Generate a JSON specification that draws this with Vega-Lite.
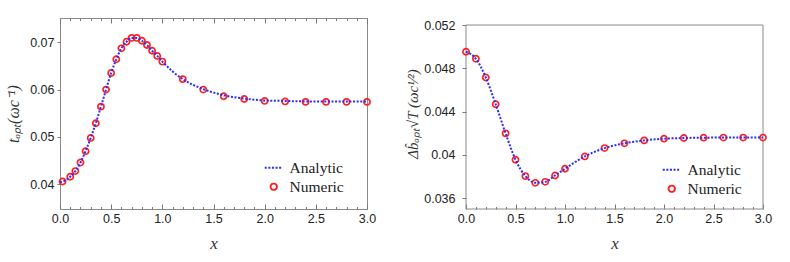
{
  "$schema": "https://vega.github.io/schema/vega-lite/v6.json",
  "background": "white",
  "padding": {"left": 5, "top": 17, "right": 5, "bottom": 5},
  "spacing": 28,
  "config": {
    "view": {"stroke": "#8a8a8a", "strokeWidth": 1},
    "axis": {"labelFont": "Liberation Sans", "labelFontSize": 12.5, "labelColor": "#222", "tickColor": "#777", "domain": false, "grid": false, "titleFont": "Liberation Serif", "titleFontWeight": "normal", "titleColor": "#333", "titleFontStyle": "italic", "labelOverlap": false},
    "legend": {"labelFont": "Liberation Serif", "labelFontSize": 15.5, "labelColor": "#222", "padding": 0, "rowPadding": 2, "labelOffset": 8, "symbolSize": 324, "title": null}
  },
  "resolve": {"scale": {"color": "independent"}, "legend": {"color": "independent"}},
  "datasets": {
    "leftNum": [
      {"x": 0.025, "y": 0.0406}, {"x": 0.1, "y": 0.0416}, {"x": 0.15, "y": 0.0428}, {"x": 0.2, "y": 0.0446},
      {"x": 0.25, "y": 0.0470}, {"x": 0.3, "y": 0.0498}, {"x": 0.35, "y": 0.0529}, {"x": 0.4, "y": 0.0564},
      {"x": 0.45, "y": 0.0600}, {"x": 0.5, "y": 0.0635}, {"x": 0.55, "y": 0.0664}, {"x": 0.6, "y": 0.0687},
      {"x": 0.65, "y": 0.0701}, {"x": 0.7, "y": 0.0709}, {"x": 0.75, "y": 0.0709}, {"x": 0.8, "y": 0.0703},
      {"x": 0.85, "y": 0.0694}, {"x": 0.9, "y": 0.0682}, {"x": 0.95, "y": 0.0671}, {"x": 1.0, "y": 0.0659},
      {"x": 1.2, "y": 0.0622}, {"x": 1.4, "y": 0.0600}, {"x": 1.6, "y": 0.0586}, {"x": 1.8, "y": 0.0580},
      {"x": 2.0, "y": 0.0576}, {"x": 2.2, "y": 0.0575}, {"x": 2.4, "y": 0.0574}, {"x": 2.6, "y": 0.0574},
      {"x": 2.8, "y": 0.0574}, {"x": 3.0, "y": 0.0574}
    ],
    "leftAna": [
      {"x": 0.0, "y": 0.0405}, {"x": 0.025, "y": 0.0406}, {"x": 0.1, "y": 0.0416}, {"x": 0.15, "y": 0.0428}, {"x": 0.2, "y": 0.0446},
      {"x": 0.25, "y": 0.0470}, {"x": 0.3, "y": 0.0498}, {"x": 0.35, "y": 0.0529}, {"x": 0.4, "y": 0.0564},
      {"x": 0.45, "y": 0.0600}, {"x": 0.5, "y": 0.0635}, {"x": 0.55, "y": 0.0664}, {"x": 0.6, "y": 0.0687},
      {"x": 0.65, "y": 0.0701}, {"x": 0.7, "y": 0.0709}, {"x": 0.75, "y": 0.0709}, {"x": 0.8, "y": 0.0703},
      {"x": 0.85, "y": 0.0694}, {"x": 0.9, "y": 0.0682}, {"x": 0.95, "y": 0.0671}, {"x": 1.0, "y": 0.0659},
      {"x": 1.2, "y": 0.0622}, {"x": 1.4, "y": 0.0601}, {"x": 1.6, "y": 0.0588}, {"x": 1.8, "y": 0.0581},
      {"x": 2.0, "y": 0.0577}, {"x": 2.2, "y": 0.0576}, {"x": 2.4, "y": 0.0575}, {"x": 2.6, "y": 0.0575},
      {"x": 2.8, "y": 0.0575}, {"x": 3.0, "y": 0.0575}
    ],
    "rightNum": [
      {"x": 0.0, "y": 0.04953}, {"x": 0.1, "y": 0.04888}, {"x": 0.2, "y": 0.04715}, {"x": 0.3, "y": 0.04468},
      {"x": 0.4, "y": 0.04199}, {"x": 0.5, "y": 0.03955}, {"x": 0.6, "y": 0.03804}, {"x": 0.7, "y": 0.03742},
      {"x": 0.8, "y": 0.03751}, {"x": 0.9, "y": 0.03810}, {"x": 1.0, "y": 0.03872}, {"x": 1.2, "y": 0.03986},
      {"x": 1.4, "y": 0.04063}, {"x": 1.6, "y": 0.04107}, {"x": 1.8, "y": 0.04134}, {"x": 2.0, "y": 0.04150},
      {"x": 2.2, "y": 0.04156}, {"x": 2.4, "y": 0.04159}, {"x": 2.6, "y": 0.04160}, {"x": 2.8, "y": 0.04160},
      {"x": 3.0, "y": 0.04160}
    ],
    "rightAna": [
      {"x": 0.0, "y": 0.04953}, {"x": 0.1, "y": 0.04888}, {"x": 0.2, "y": 0.04715}, {"x": 0.3, "y": 0.04468},
      {"x": 0.4, "y": 0.04199}, {"x": 0.5, "y": 0.03955}, {"x": 0.6, "y": 0.03804}, {"x": 0.7, "y": 0.03742},
      {"x": 0.8, "y": 0.03751}, {"x": 0.9, "y": 0.03810}, {"x": 1.0, "y": 0.03872}, {"x": 1.2, "y": 0.03986},
      {"x": 1.4, "y": 0.04063}, {"x": 1.6, "y": 0.04107}, {"x": 1.8, "y": 0.04134}, {"x": 2.0, "y": 0.04150},
      {"x": 2.2, "y": 0.04156}, {"x": 2.4, "y": 0.04159}, {"x": 2.6, "y": 0.04160}, {"x": 2.8, "y": 0.04160},
      {"x": 3.0, "y": 0.04160}
    ]
  },
  "hconcat": [
    {
      "width": 307,
      "height": 191,
      "resolve": {"axis": {"x": "independent", "y": "independent"}},
      "layer": [
        {
          "data": {"name": "leftNum"},
          "mark": {"type": "point", "filled": false, "size": 38, "strokeWidth": 1.7, "opacity": 1},
          "encoding": {
            "x": {"field": "x", "type": "quantitative", "scale": {"domain": [0, 3], "nice": false, "zero": false},
              "axis": {"orient": "top", "labels": false, "title": null, "values": [0,0.1,0.2,0.3,0.4,0.5,0.6,0.7,0.8,0.9,1,1.1,1.2,1.3,1.4,1.5,1.6,1.7,1.8,1.9,2,2.1,2.2,2.3,2.4,2.5,2.6,2.7,2.8,2.9,3],
                "tickSize": {"condition": {"test": "datum.value % 0.5 === 0", "value": -5}, "value": -2.5}}},
            "y": {"field": "y", "type": "quantitative", "scale": {"domain": [0.0348, 0.0751], "nice": false, "zero": false},
              "axis": {"orient": "left", "title": "tₒₚₜ(ωc⁻¹)", "titleFontSize": 16, "titlePadding": 8, "values": [0.04, 0.05, 0.06, 0.07], "format": "~g", "tickSize": 3, "labelPadding": 3}},
            "color": {"datum": "Numeric", "type": "nominal", "scale": {"domain": ["Analytic", "Numeric"], "range": ["#2b2bff", "#ff2020"]},
              "legend": {"orient": "none", "legendX": 206, "legendY": 142,
                "encode": {"symbols": {"update": {
                  "shape": {"signal": "datum.value === 'Analytic' ? 'stroke' : 'circle'"},
                  "size": {"signal": "datum.value === 'Analytic' ? 324 : 40"},
                  "strokeDash": {"signal": "datum.value === 'Analytic' ? [2, 1.6] : [1, 0]"},
                  "stroke": {"signal": "datum.value === 'Analytic' ? '#2b2bff' : '#ff2020'"},
                  "fill": {"value": "transparent"},
                  "opacity": {"value": 1},
                  "strokeWidth": {"signal": "datum.value === 'Analytic' ? 1.8 : 1.9"}}}}}}
          }
        },
        {
          "data": {"name": "leftAna"},
          "mark": {"type": "line", "strokeWidth": 2, "strokeDash": [2, 1.6], "interpolate": "monotone"},
          "encoding": {
            "x": {"field": "x", "type": "quantitative", "scale": {"domain": [0, 3], "nice": false, "zero": false},
              "axis": {"orient": "bottom", "title": "x", "titleFontSize": 17, "titlePadding": 8, "labelFlush": false, "labelPadding": 8,
                "values": [0,0.1,0.2,0.3,0.4,0.5,0.6,0.7,0.8,0.9,1,1.1,1.2,1.3,1.4,1.5,1.6,1.7,1.8,1.9,2,2.1,2.2,2.3,2.4,2.5,2.6,2.7,2.8,2.9,3],
                "labelExpr": "datum.value % 0.5 === 0 ? format(datum.value, '.1f') : ''",
                "tickSize": {"condition": {"test": "datum.value % 0.5 === 0", "value": -5}, "value": -2.5}}},
            "y": {"field": "y", "type": "quantitative", "scale": {"domain": [0.0348, 0.0751], "nice": false, "zero": false}, "axis": null},
            "color": {"datum": "Analytic", "type": "nominal", "scale": {"domain": ["Analytic", "Numeric"], "range": ["#2b2bff", "#ff2020"]},
              "legend": {"orient": "none", "legendX": 206, "legendY": 142,
                "encode": {"symbols": {"update": {
                  "shape": {"signal": "datum.value === 'Analytic' ? 'stroke' : 'circle'"},
                  "size": {"signal": "datum.value === 'Analytic' ? 324 : 40"},
                  "strokeDash": {"signal": "datum.value === 'Analytic' ? [2, 1.6] : [1, 0]"},
                  "stroke": {"signal": "datum.value === 'Analytic' ? '#2b2bff' : '#ff2020'"},
                  "fill": {"value": "transparent"},
                  "opacity": {"value": 1},
                  "strokeWidth": {"signal": "datum.value === 'Analytic' ? 1.8 : 1.9"}}}}}}
          }
        }
      ]
    },
    {
      "width": 297,
      "height": 191,
      "view": {"stroke": null},
      "resolve": {"axis": {"x": "independent", "y": "independent"}},
      "layer": [
        {
          "data": {"values": [{}]},
          "mark": {"type": "rect", "fill": null, "stroke": "#8a8a8a", "strokeWidth": 1},
          "encoding": {
            "x": {"datum": 0, "type": "quantitative", "scale": {"domain": [0, 3], "nice": false, "zero": false}, "axis": null},
            "x2": {"datum": 3},
            "y": {"datum": 0.035, "type": "quantitative", "scale": {"domain": [0.035, 0.05265], "nice": false, "zero": false}, "axis": null},
            "y2": {"datum": 0.052}
          }
        },
        {
          "data": {"name": "rightNum"},
          "mark": {"type": "point", "filled": false, "size": 38, "strokeWidth": 1.7, "opacity": 1},
          "encoding": {
            "x": {"field": "x", "type": "quantitative", "scale": {"domain": [0, 3], "nice": false, "zero": false}, "axis": null},
            "y": {"field": "y", "type": "quantitative", "scale": {"domain": [0.035, 0.05265], "nice": false, "zero": false},
              "axis": {"orient": "left", "title": "Δb̂ₒₚₜ√T (ωc¹⁄²)", "titleFontSize": 15, "titlePadding": 3, "values": [0.036, 0.04, 0.044, 0.048, 0.052], "format": "~g", "tickSize": 4, "labelPadding": 7}},
            "color": {"datum": "Numeric", "type": "nominal", "scale": {"domain": ["Analytic", "Numeric"], "range": ["#2b2bff", "#ff2020"]},
              "legend": {"orient": "none", "legendX": 198, "legendY": 144,
                "encode": {"symbols": {"update": {
                  "shape": {"signal": "datum.value === 'Analytic' ? 'stroke' : 'circle'"},
                  "size": {"signal": "datum.value === 'Analytic' ? 324 : 40"},
                  "strokeDash": {"signal": "datum.value === 'Analytic' ? [2, 1.6] : [1, 0]"},
                  "stroke": {"signal": "datum.value === 'Analytic' ? '#2b2bff' : '#ff2020'"},
                  "fill": {"value": "transparent"},
                  "opacity": {"value": 1},
                  "strokeWidth": {"signal": "datum.value === 'Analytic' ? 1.8 : 1.9"}}}}}}
          }
        },
        {
          "data": {"name": "rightAna"},
          "mark": {"type": "line", "strokeWidth": 2, "strokeDash": [2, 1.6], "interpolate": "monotone"},
          "encoding": {
            "x": {"field": "x", "type": "quantitative", "scale": {"domain": [0, 3], "nice": false, "zero": false},
              "axis": {"orient": "bottom", "title": "x", "titleFontSize": 17, "titlePadding": 8, "labelFlush": false, "labelPadding": 8,
                "values": [0,0.1,0.2,0.3,0.4,0.5,0.6,0.7,0.8,0.9,1,1.1,1.2,1.3,1.4,1.5,1.6,1.7,1.8,1.9,2,2.1,2.2,2.3,2.4,2.5,2.6,2.7,2.8,2.9,3],
                "labelExpr": "datum.value % 0.5 === 0 ? format(datum.value, '.1f') : ''",
                "tickSize": {"condition": {"test": "datum.value % 0.5 === 0", "value": -5}, "value": -2.5}}},
            "y": {"field": "y", "type": "quantitative", "scale": {"domain": [0.035, 0.05265], "nice": false, "zero": false}, "axis": null},
            "color": {"datum": "Analytic", "type": "nominal", "scale": {"domain": ["Analytic", "Numeric"], "range": ["#2b2bff", "#ff2020"]},
              "legend": {"orient": "none", "legendX": 198, "legendY": 144,
                "encode": {"symbols": {"update": {
                  "shape": {"signal": "datum.value === 'Analytic' ? 'stroke' : 'circle'"},
                  "size": {"signal": "datum.value === 'Analytic' ? 324 : 40"},
                  "strokeDash": {"signal": "datum.value === 'Analytic' ? [2, 1.6] : [1, 0]"},
                  "stroke": {"signal": "datum.value === 'Analytic' ? '#2b2bff' : '#ff2020'"},
                  "fill": {"value": "transparent"},
                  "opacity": {"value": 1},
                  "strokeWidth": {"signal": "datum.value === 'Analytic' ? 1.8 : 1.9"}}}}}}
          }
        }
      ]
    }
  ]
}
